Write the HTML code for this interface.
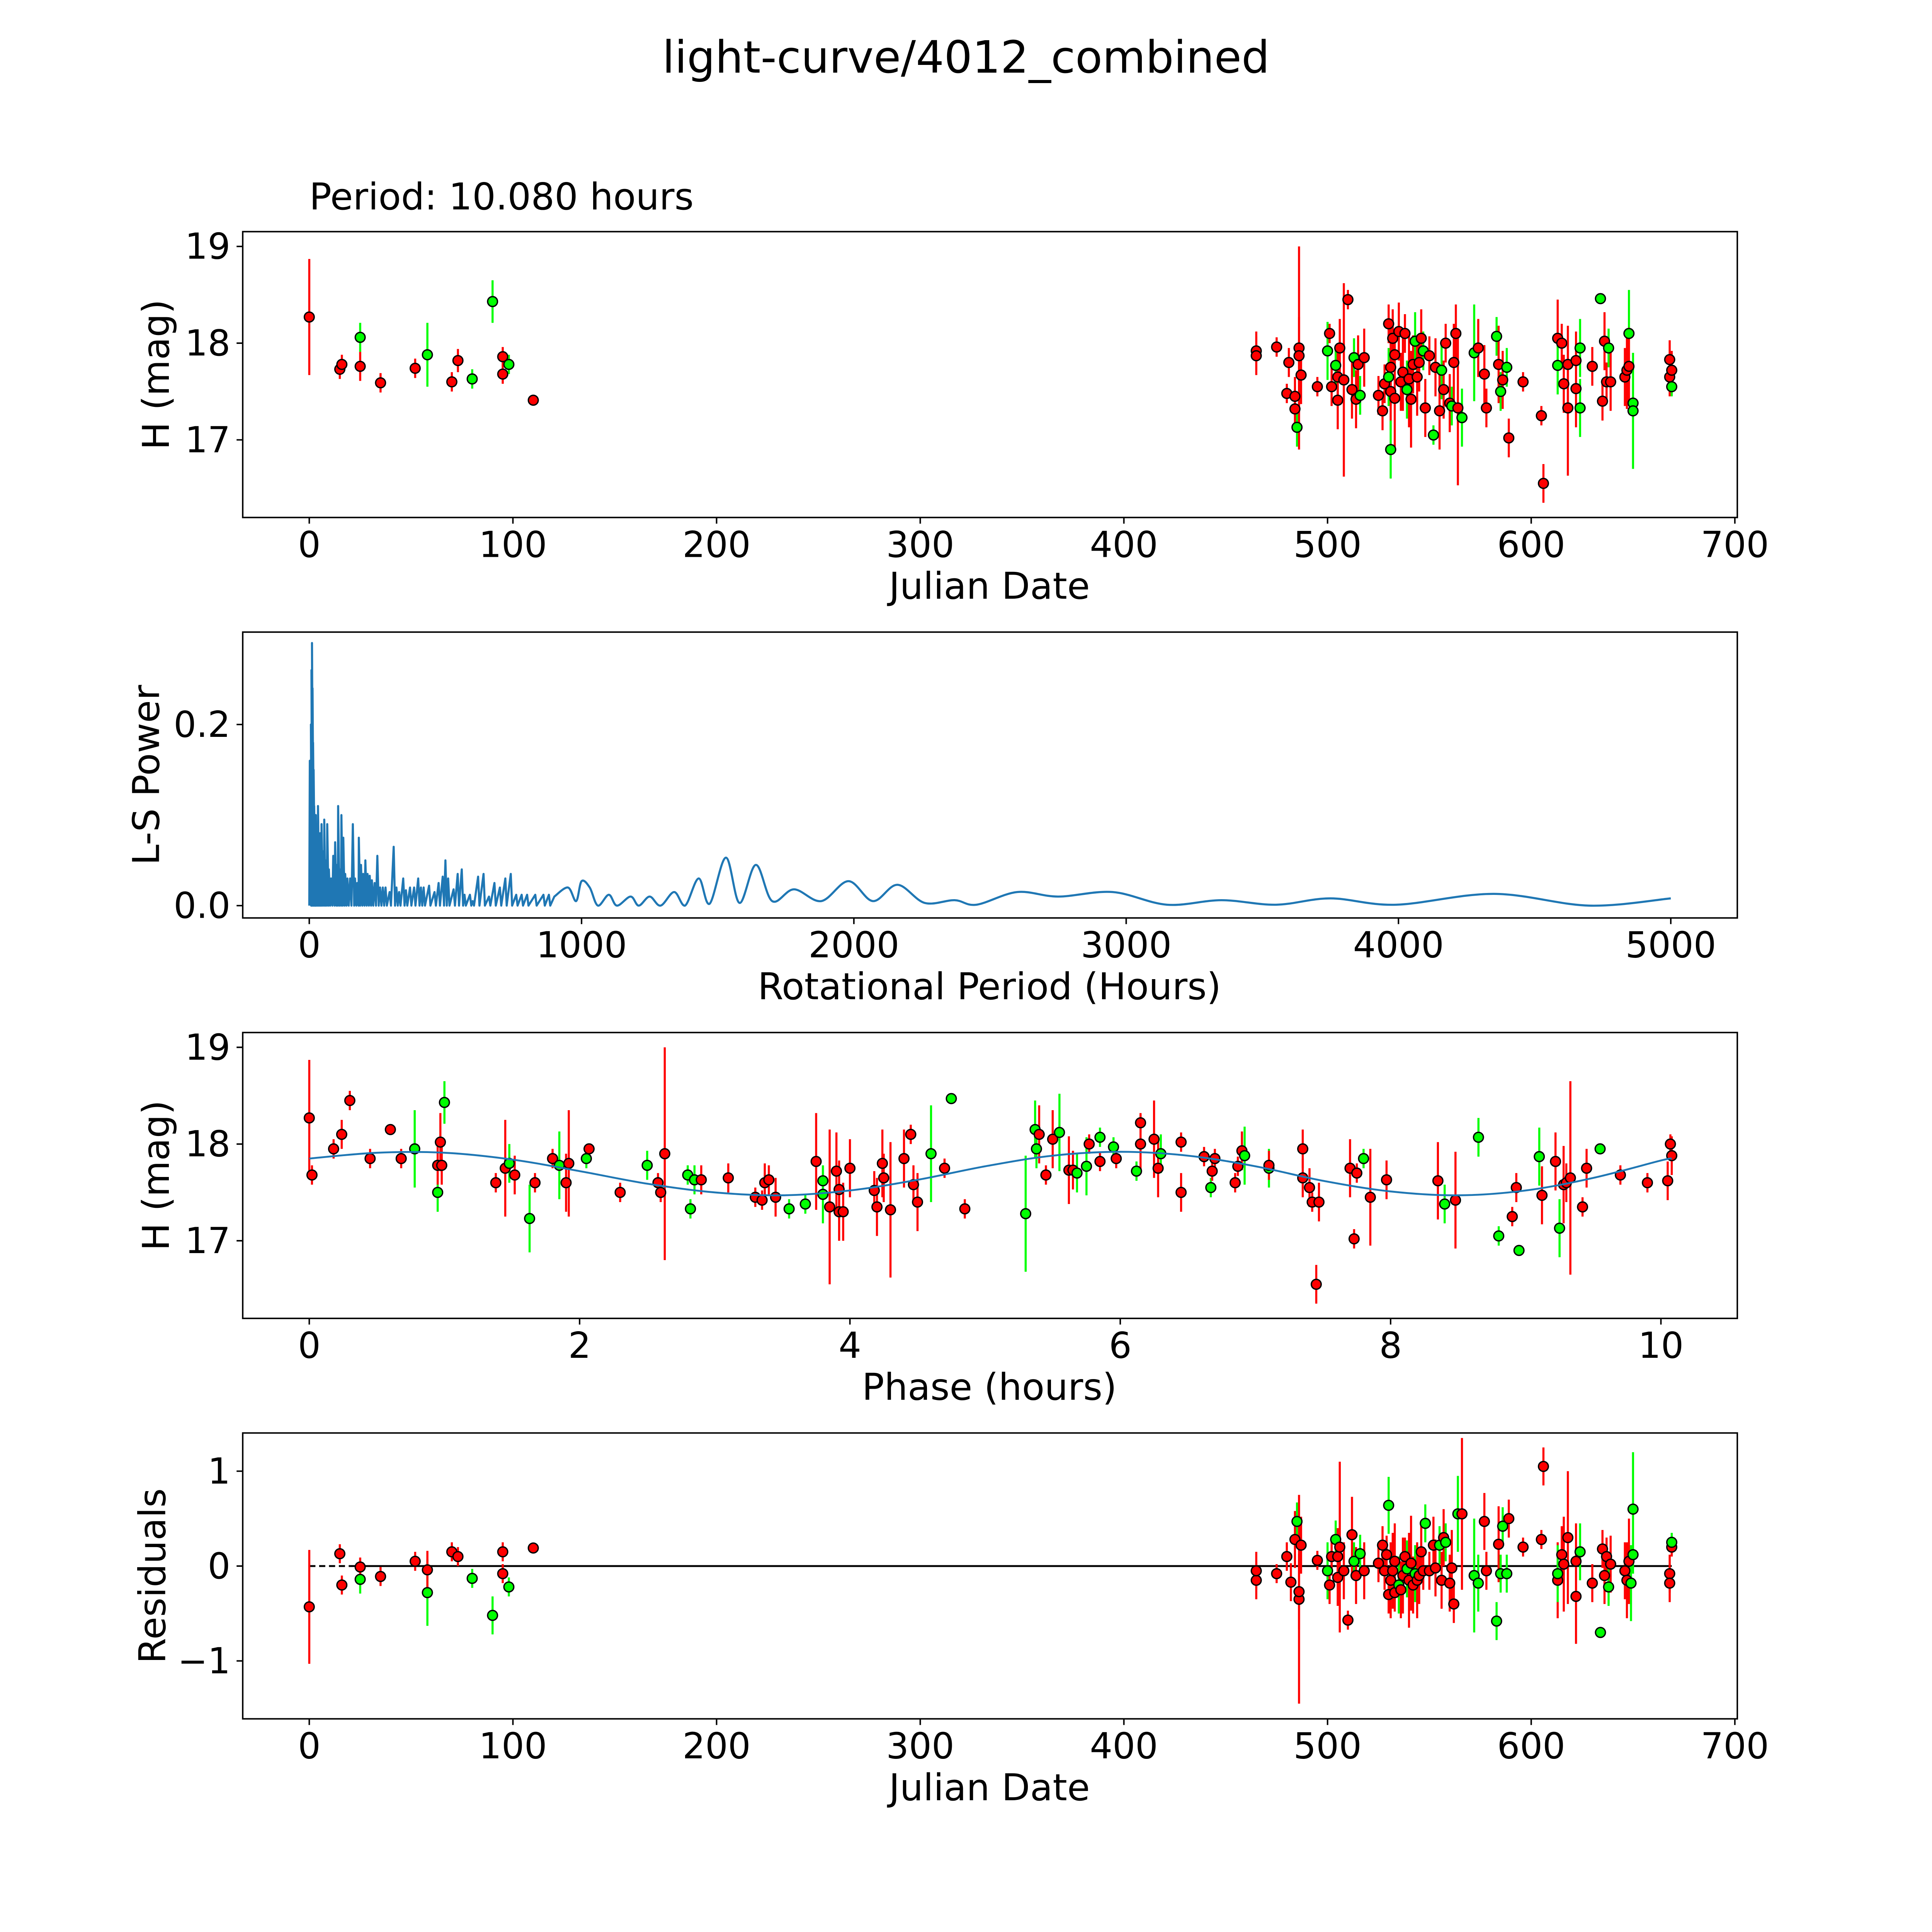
<!DOCTYPE html>
<html><head><meta charset="utf-8"><style>
html,body{margin:0;padding:0;background:#fff;overflow:hidden;width:100vw;height:100vh}
svg{display:block;width:100vw;height:100vh}
text{font-family:"DejaVu Sans","Liberation Sans",sans-serif;fill:#000}
</style></head><body>
<svg id="fig" xmlns="http://www.w3.org/2000/svg" viewBox="0 0 1568 1568" preserveAspectRatio="xMidYMid meet">
<rect x="0" y="0" width="1568" height="1568" fill="#fff"/>
<text x="784" y="59" font-size="36" text-anchor="middle">light-curve/4012_combined</text>
<text x="251" y="170" font-size="30">Period: 10.080 hours</text>
</svg>
<script>
// ---------- DATA ----------
const lcData = [
[0,18.27,0.6,'r'],[15,17.73,0.1,'r'],[16,17.78,0.1,'r'],[25,18.06,0.15,'g'],[25,17.76,0.15,'r'],[35,17.59,0.1,'r'],[52,17.74,0.1,'r'],[58,17.88,0.33,'g'],[70,17.60,0.1,'r'],[73,17.82,0.12,'r'],[80,17.63,0.1,'g'],[90,18.43,0.22,'g'],[95,17.86,0.1,'r'],[95,17.68,0.1,'r'],[98,17.78,0.1,'g'],[110,17.41,0.05,'r'],
[465,17.92,0.2,'r'],[465,17.87,0.2,'r'],[475,17.96,0.1,'r'],[480,17.48,0.1,'r'],[481,17.8,0.15,'r'],[484,17.32,0.2,'r'],[484,17.45,0.2,'r'],[485,17.13,0.2,'g'],[486,17.95,1.05,'r'],[486,17.87,0.4,'r'],[487,17.67,0.3,'r'],[495,17.55,0.1,'r'],[500,17.92,0.3,'g'],[501,18.1,0.1,'r'],[502,17.55,0.2,'r'],[504,17.77,0.2,'g'],[505,17.65,0.3,'r'],[505,17.41,0.3,'r'],[506,17.95,0.3,'r'],[508,17.62,1.0,'r'],[510,18.45,0.1,'r'],[512,17.52,0.3,'r'],[513,17.85,0.2,'g'],[514,17.42,0.3,'r'],[515,17.78,0.3,'r'],[516,17.46,0.2,'g'],[518,17.85,0.3,'r'],[525,17.46,0.2,'r'],[527,17.3,0.2,'r'],[528,17.58,0.2,'r'],[530,18.2,0.2,'r'],[530,17.65,0.3,'g'],[531,17.75,0.4,'r'],[531,17.5,0.4,'r'],[531,16.9,0.3,'g'],[532,18.05,0.3,'r'],[533,17.88,0.2,'r'],[533,17.43,0.5,'r'],[535,18.12,0.3,'r'],[536,17.6,0.3,'r'],[537,17.7,0.4,'r'],[538,18.1,0.2,'r'],[539,17.52,0.3,'g'],[540,17.63,0.5,'r'],[541,17.42,0.5,'r'],[542,17.78,0.3,'r'],[543,18.02,0.3,'g'],[544,17.65,0.4,'r'],[545,17.8,0.3,'r'],[546,18.05,0.3,'r'],[547,17.92,0.2,'g'],[548,17.33,0.3,'r'],[550,17.87,0.2,'r'],[552,17.05,0.1,'g'],[553,17.75,0.3,'r'],[555,17.3,0.4,'r'],[556,17.72,0.3,'g'],[557,17.52,0.3,'r'],[558,18.0,0.2,'r'],[560,17.38,0.3,'r'],[561,17.35,0.2,'g'],[562,17.8,0.4,'r'],[563,18.1,0.3,'r'],[564,17.33,0.8,'r'],[566,17.23,0.3,'g'],[572,17.9,0.5,'g'],[574,17.95,0.3,'r'],[577,17.68,0.3,'r'],[578,17.33,0.2,'r'],[583,18.07,0.2,'g'],[584,17.78,0.4,'r'],[585,17.5,0.2,'g'],[586,17.62,0.3,'r'],[588,17.75,0.2,'g'],[589,17.02,0.2,'r'],[596,17.6,0.1,'r'],[605,17.25,0.1,'r'],[606,16.55,0.2,'r'],[613,18.05,0.4,'r'],[613,17.77,0.3,'g'],[615,18.0,0.2,'r'],[616,17.58,0.3,'r'],[618,17.78,0.4,'r'],[618,17.33,0.7,'r'],[622,17.82,0.3,'r'],[622,17.53,0.4,'r'],[624,17.95,0.3,'g'],[624,17.33,0.3,'g'],[630,17.76,0.2,'r'],[634,18.46,0.05,'g'],[635,17.4,0.2,'r'],[636,18.02,0.3,'r'],[637,17.6,0.2,'r'],[638,17.95,0.2,'g'],[639,17.6,0.3,'r'],[646,17.65,0.3,'r'],[647,17.72,0.4,'r'],[648,18.1,0.45,'g'],[648,17.76,0.4,'r'],[650,17.38,0.2,'g'],[650,17.3,0.6,'g'],[668,17.83,0.2,'r'],[668,17.65,0.2,'r'],[669,17.72,0.2,'r'],[669,17.55,0.1,'g']
];
const spikePeriods = [2,4,6,8,10,12,14,16,18,20,24,28,32,36,40,45,50,55,60,66,72,80,88,95,100,106,112,118,125,132,140,150,160,168,176,182,190,198,206,214,222,230,240,250,260,270,280,295,310,320,330,345,355,370,385,400,410,420,440,460,475,490,500,510,530,545,560,570,590,600,620,640,660,680,700,720,740,760,780,800,830,860,880];
const spikePowers = [0.16,0.09,0.2,0.26,0.29,0.24,0.18,0.15,0.11,0.1,0.1,0.09,0.11,0.06,0.08,0.09,0.06,0.095,0.05,0.09,0.04,0.03,0.055,0.07,0.045,0.11,0.04,0.1,0.075,0.035,0.03,0.03,0.09,0.03,0.025,0.075,0.045,0.035,0.05,0.035,0.033,0.028,0.025,0.055,0.02,0.02,0.02,0.015,0.065,0.02,0.015,0.03,0.017,0.02,0.02,0.03,0.02,0.02,0.022,0.015,0.025,0.032,0.05,0.03,0.018,0.035,0.04,0.012,0.012,0.005,0.032,0.035,0.01,0.025,0.02,0.03,0.035,0.012,0.012,0.012,0.012,0.012,0.012];
const smoothPeriods = [900,950,980,1000,1030,1060,1100,1130,1180,1210,1250,1290,1340,1380,1430,1470,1530,1580,1640,1700,1780,1880,1980,2070,2160,2260,2370,2450,2600,2750,2950,3150,3350,3550,3750,3990,4350,4700,5000];
const smoothPowers = [0.01,0.02,0.005,0.027,0.02,0.0,0.012,0.0,0.01,0.0,0.01,0.0,0.015,0.0,0.03,0.002,0.053,0.003,0.045,0.005,0.018,0.005,0.027,0.005,0.023,0.003,0.006,0.001,0.015,0.01,0.015,0.001,0.006,0.001,0.008,0.001,0.013,0.0,0.008];
const phData = [
[0,18.27,.6,'r'],[0.02,17.68,.1,'r'],[0.18,17.95,.1,'r'],[0.24,18.1,.15,'r'],[0.3,18.45,.1,'r'],[0.45,17.85,.1,'r'],[0.6,18.15,.05,'r'],[0.68,17.85,.1,'r'],[0.78,17.95,.4,'g'],[0.95,17.5,.2,'g'],[0.95,17.78,.2,'r'],[0.97,18.02,.3,'r'],[0.98,17.78,.2,'r'],[1.0,18.43,.22,'g'],[1.38,17.6,.1,'r'],[1.45,17.75,.5,'r'],[1.48,17.8,.2,'g'],[1.52,17.68,.2,'r'],[1.63,17.23,.35,'g'],[1.67,17.6,.1,'r'],[1.8,17.85,.1,'r'],[1.85,17.78,.35,'g'],[1.9,17.6,.3,'r'],[1.92,17.8,.55,'r'],[2.05,17.85,.1,'g'],[2.07,17.95,.05,'r'],[2.3,17.5,.1,'r'],[2.5,17.78,.15,'g'],[2.58,17.6,.1,'r'],[2.6,17.5,.1,'r'],[2.63,17.9,1.1,'r'],[2.8,17.68,.1,'g'],[2.82,17.33,.1,'g'],[2.85,17.63,.15,'g'],[2.9,17.63,.15,'r'],[3.1,17.65,.15,'r'],[3.3,17.45,.1,'r'],[3.35,17.42,.1,'r'],[3.37,17.6,.2,'r'],[3.4,17.63,.15,'r'],[3.45,17.45,.2,'r'],[3.55,17.33,.1,'g'],[3.67,17.38,.1,'g'],[3.75,17.82,.5,'r'],[3.8,17.62,.15,'g'],[3.8,17.48,.3,'g'],[3.85,17.35,.8,'r'],[3.9,17.72,.4,'r'],[3.92,17.3,.3,'r'],[3.95,17.3,.3,'r'],[3.92,17.53,.3,'r'],[4.0,17.75,.3,'r'],[4.18,17.52,.2,'r'],[4.2,17.35,.3,'r'],[4.24,17.8,.35,'r'],[4.25,17.65,.25,'r'],[4.3,17.32,.7,'r'],[4.4,17.85,.3,'r'],[4.45,18.1,.1,'r'],[4.47,17.58,.2,'r'],[4.5,17.4,.3,'r'],[4.6,17.9,.5,'g'],[4.7,17.75,.1,'r'],[4.75,18.47,.05,'g'],[4.85,17.33,.1,'r'],[5.3,17.28,.6,'g'],[5.37,18.15,.3,'g'],[5.38,17.95,.2,'g'],[5.4,18.1,.3,'r'],[5.45,17.68,.1,'r'],[5.5,18.05,.3,'r'],[5.55,18.12,.4,'g'],[5.62,17.73,.35,'r'],[5.65,17.73,.2,'r'],[5.68,17.7,.2,'g'],[5.75,17.77,.3,'g'],[5.77,18.0,.1,'r'],[5.85,18.07,.1,'g'],[5.85,17.82,.1,'r'],[5.95,17.97,.1,'g'],[5.97,17.85,.1,'r'],[6.12,17.72,.1,'g'],[6.15,18.22,.1,'r'],[6.15,18.0,.3,'r'],[6.25,18.05,.4,'r'],[6.28,17.75,.3,'r'],[6.3,17.9,.2,'g'],[6.45,17.5,.2,'r'],[6.45,18.02,.1,'r'],[6.62,17.87,.1,'r'],[6.67,17.55,.1,'g'],[6.7,17.85,.1,'r'],[6.68,17.72,.1,'r'],[6.85,17.6,.1,'r'],[6.87,17.77,.1,'r'],[6.9,17.93,.2,'r'],[6.92,17.88,.3,'g'],[7.1,17.75,.2,'g'],[7.1,17.78,.15,'r'],[7.35,17.95,.2,'r'],[7.35,17.65,.2,'r'],[7.4,17.55,.2,'r'],[7.42,17.4,.1,'r'],[7.45,16.55,.2,'r'],[7.47,17.4,.2,'r'],[7.7,17.75,.3,'r'],[7.73,17.02,.1,'r'],[7.75,17.7,.1,'r'],[7.8,17.85,.1,'g'],[7.85,17.45,.5,'r'],[7.97,17.63,.2,'r'],[8.35,17.62,.4,'r'],[8.4,17.38,.2,'g'],[8.48,17.42,.5,'r'],[8.65,18.07,.2,'g'],[8.8,17.05,.1,'g'],[8.9,17.25,.1,'r'],[8.93,17.55,.15,'r'],[8.95,16.9,.05,'g'],[9.1,17.87,.3,'g'],[9.12,17.47,.3,'r'],[9.22,17.82,.3,'r'],[9.25,17.13,.3,'g'],[9.28,17.58,.4,'r'],[9.3,17.6,.2,'r'],[9.33,17.65,1.0,'r'],[9.42,17.35,.1,'r'],[9.45,17.75,.2,'r'],[9.55,17.95,.05,'g'],[9.7,17.68,.1,'r'],[9.9,17.6,.1,'r'],[10.05,17.62,.2,'r'],[10.07,18.0,.1,'r'],[10.08,17.88,.2,'r']
];
const modelPhase = [0,0.5,1,1.5,2,2.5,3,3.5,4,4.5,5,5.5,6,6.5,7,7.5,8,8.5,9,9.5,10,10.08];
const modelMag = [17.85,17.91,17.91,17.84,17.72,17.59,17.5,17.47,17.52,17.63,17.77,17.88,17.92,17.88,17.77,17.62,17.51,17.47,17.52,17.65,17.83,17.85];
const resData = [
[0,-0.43,.6,'r'],[15,0.13,.1,'r'],[16,-0.2,.1,'r'],[25,-0.14,.15,'g'],[25,-0.01,.1,'r'],[35,-0.11,.1,'r'],[52,0.05,.1,'r'],[58,-0.28,.35,'g'],[58,-0.04,.2,'r'],[70,0.15,.1,'r'],[73,0.1,.1,'r'],[80,-0.13,.1,'g'],[90,-0.52,.2,'g'],[95,-0.08,.1,'r'],[95,0.15,.1,'r'],[98,-0.22,.1,'g'],[110,0.19,.05,'r'],
[465,-0.15,.2,'r'],[465,-0.05,.2,'r'],[475,-0.08,.1,'r'],[480,0.1,.15,'r'],[482,-0.17,.2,'r'],[484,0.28,.3,'r'],[485,0.47,.2,'g'],[486,-0.35,1.1,'r'],[486,-0.27,.4,'r'],[487,0.22,.3,'r'],[495,0.06,.1,'r'],[500,-0.05,.3,'g'],[501,-0.2,.2,'r'],[502,0.1,.2,'r'],[504,0.28,.2,'g'],[505,0.1,.3,'r'],[505,-0.12,.3,'r'],[506,0.2,.9,'r'],[508,-0.05,.3,'r'],[510,-0.57,.1,'r'],[512,0.33,.4,'r'],[513,0.05,.2,'g'],[514,-0.1,.3,'r'],[516,0.13,.2,'g'],[518,-0.05,.3,'r'],[525,0.03,.2,'r'],[527,0.22,.2,'r'],[528,-0.05,.2,'r'],[529,0.12,.2,'r'],[530,-0.3,.2,'r'],[530,0.64,.3,'g'],[531,-0.15,.4,'r'],[532,-0.05,.4,'r'],[533,-0.28,.2,'r'],[533,0.05,.4,'r'],[535,-0.2,.3,'g'],[536,-0.25,.3,'r'],[537,-0.1,.4,'r'],[538,0.1,.2,'r'],[539,-0.03,.3,'g'],[540,-0.15,.5,'r'],[541,0.03,.5,'r'],[542,-0.2,.3,'r'],[543,-0.08,.3,'g'],[544,-0.15,.4,'r'],[545,-0.1,.3,'r'],[546,0.15,.3,'r'],[547,-0.05,.2,'r'],[548,0.45,.2,'g'],[550,-0.05,.2,'r'],[552,0.22,.3,'r'],[553,-0.02,.3,'r'],[555,0.22,.2,'g'],[556,-0.15,.3,'r'],[557,0.3,.3,'r'],[558,0.25,.2,'g'],[560,-0.18,.3,'r'],[561,-0.02,.4,'r'],[562,-0.4,.2,'r'],[564,0.55,.4,'g'],[566,0.55,.8,'r'],[572,-0.1,.6,'g'],[574,-0.18,.3,'g'],[577,0.47,.3,'r'],[578,-0.05,.2,'r'],[583,-0.58,.2,'g'],[584,0.23,.4,'r'],[585,-0.08,.2,'g'],[586,0.42,.2,'g'],[588,-0.08,.2,'g'],[589,0.5,.2,'r'],[596,0.2,.1,'r'],[605,0.28,.1,'r'],[606,1.05,.2,'r'],[613,-0.15,.4,'r'],[613,-0.08,.3,'g'],[615,0.12,.3,'r'],[616,0.02,.5,'r'],[618,0.3,.7,'r'],[622,-0.32,.5,'r'],[622,0.05,.4,'r'],[624,0.15,.3,'g'],[630,-0.18,.2,'r'],[634,-0.7,.05,'g'],[635,0.18,.2,'r'],[636,-0.1,.3,'r'],[637,0.1,.2,'r'],[638,-0.22,.2,'g'],[639,0.02,.3,'r'],[646,-0.05,.3,'r'],[647,-0.15,.4,'r'],[648,0.05,.45,'r'],[649,-0.18,.4,'g'],[650,0.6,.6,'g'],[650,0.12,.2,'g'],[668,-0.08,.2,'r'],[668,-0.18,.2,'r'],[669,0.2,.1,'r'],[669,0.25,.1,'g']
];
const dateTicks = [0,100,200,300,400,500,600,700];
const magTicks = [17,18,19];
const periodTicks = [0,1000,2000,3000,4000,5000];
const powerTicks = [0.0,0.2];
const powerTickLabels = ['0.0','0.2'];
const phaseTicks = [0,2,4,6,8,10];
const resTicks = [-1,0,1];
const resTickLabels = ['\u22121','0','1'];

// ---------- DRAWING ----------
const NS='http://www.w3.org/2000/svg';
const svg=document.getElementById('fig');
function mk(tag,attrs,parent){const e=document.createElementNS(NS,tag);for(const k in attrs)e.setAttribute(k,attrs[k]);(parent||svg).appendChild(e);return e;}
function lin(d0,d1,p0,p1){return v=>p0+(v-d0)*(p1-p0)/(d1-d0);}
const COL={r:'#ff0000',g:'#00ff00'};
const TICKFS=29, LABELFS=30;

function axesFrame(name){
  const g=mk('g',{});
  
  
  return g;
}
function frame(g,L,T,R,B){
  const r=mk('rect',{x:L,y:T,width:R-L,height:B-T,fill:'none',stroke:'#000','stroke-width':1.2},g);
  
  
}
function xTicks(g,sx,ticks,labels,B,label,labelName){
  ticks.forEach((t,i)=>{
    const x=sx(t);
    mk('line',{x1:x,y1:B,x2:x,y2:B+5,stroke:'#000','stroke-width':1.2},g);
    const tx=mk('text',{x:x,y:B+32,'font-size':TICKFS,'text-anchor':'middle'},g);
    tx.textContent=labels?labels[i]:String(t);
    
    
  });
  const lt=mk('text',{x:803,y:B+66,'font-size':LABELFS,'text-anchor':'middle'},g);
  lt.textContent=label;
  
  
}
function yTicks(g,sy,ticks,labels,L,T,B,label,labelName,labelX){
  ticks.forEach((t,i)=>{
    const y=sy(t);
    mk('line',{x1:L-5,y1:y,x2:L,y2:y,stroke:'#000','stroke-width':1.2},g);
    const tx=mk('text',{x:L-10,y:y+10,'font-size':TICKFS,'text-anchor':'end'},g);
    tx.textContent=labels?labels[i]:String(t);
    
    
  });
  const cy=(T+B)/2;
  const lt=mk('text',{x:0,y:0,'font-size':LABELFS,'text-anchor':'middle',transform:`translate(${labelX},${cy}) rotate(-90)`},g);
  lt.textContent=label;
  
  
}
function errPoints(g,data,sx,sy,name){
  const eg=mk('g',{},g);
  data.forEach(d=>{
    const x=sx(d[0]);
    const l=mk('line',{x1:x,y1:sy(d[1]-d[2]),x2:x,y2:sy(d[1]+d[2]),stroke:COL[d[3]],'stroke-width':1.7},eg);
    
    
  });
  data.forEach(d=>{
    const c=mk('circle',{cx:sx(d[0]),cy:sy(d[1]),r:4,fill:COL[d[3]],stroke:'#000','stroke-width':1.1},eg);
    
    
  });
}

// Panel 1
(function(){
  const L=197,T=188,R=1410,B=420;
  const sx=lin(0,700,251,1408), sy=lin(17,19,357,200);
  const g=axesFrame('light-curve-panel');
  errPoints(g,lcData,sx,sy,'light-curve');
  frame(g,L,T,R,B);
  xTicks(g,sx,dateTicks,null,B,'Julian Date','x-axis-title');
  yTicks(g,sy,magTicks,null,L,T,B,'H (mag)','y-axis-title',137);
})();
// Panel 2
(function(){
  const L=197,T=513,R=1410,B=745;
  const sx=lin(0,5000,251,1356), sy=lin(0,0.2,735,588);
  const g=axesFrame('periodogram-panel');
  let d=`M${sx(0)},${sy(0)}`;
  spikePeriods.forEach((p,i)=>{
    d+=` L${sx(p)},${sy(spikePowers[i])} L${sx(p)+1.1},${sy(0)}`;
  });
  const pts=smoothPeriods.map((p,i)=>[sx(p),sy(smoothPowers[i])]);
  d+=` L${pts[0][0]},${pts[0][1]}`;
  for(let i=0;i<pts.length-1;i++){
    const p0=pts[Math.max(0,i-1)],p1=pts[i],p2=pts[i+1],p3=pts[Math.min(pts.length-1,i+2)];
    const c1=[p1[0]+(p2[0]-p0[0])/6,p1[1]+(p2[1]-p0[1])/6];
    const c2=[p2[0]-(p3[0]-p1[0])/6,p2[1]-(p3[1]-p1[1])/6];
    d+=` C${c1[0]},${Math.min(c1[1],sy(-0.001))} ${c2[0]},${Math.min(c2[1],sy(-0.001))} ${p2[0]},${p2[1]}`;
  }
  const path=mk('path',{d:d,fill:'none',stroke:'#1f77b4','stroke-width':1.7,'stroke-linejoin':'round'},g);
  
  
  frame(g,L,T,R,B);
  xTicks(g,sx,periodTicks,null,B,'Rotational Period (Hours)','x-axis-title');
  yTicks(g,sy,powerTicks,powerTickLabels,L,T,B,'L-S Power','y-axis-title',129);
})();
// Panel 3
(function(){
  const L=197,T=838,R=1410,B=1070;
  const sx=lin(0,10,251,1348), sy=lin(17,19,1007,850);
  const g=axesFrame('phased-curve-panel');
  errPoints(g,phData,sx,sy,'phased');
  const pts=modelPhase.map((p,i)=>[sx(p),sy(modelMag[i])]);
  let d=`M${pts[0][0]},${pts[0][1]}`;
  for(let i=0;i<pts.length-1;i++){
    const p0=pts[Math.max(0,i-1)],p1=pts[i],p2=pts[i+1],p3=pts[Math.min(pts.length-1,i+2)];
    d+=` C${p1[0]+(p2[0]-p0[0])/6},${p1[1]+(p2[1]-p0[1])/6} ${p2[0]-(p3[0]-p1[0])/6},${p2[1]-(p3[1]-p1[1])/6} ${p2[0]},${p2[1]}`;
  }
  const path=mk('path',{d:d,fill:'none',stroke:'#1f77b4','stroke-width':1.5},g);
  
  
  frame(g,L,T,R,B);
  xTicks(g,sx,phaseTicks,null,B,'Phase (hours)','x-axis-title');
  yTicks(g,sy,magTicks,null,L,T,B,'H (mag)','y-axis-title',137);
})();
// Panel 4
(function(){
  const L=197,T=1163,R=1410,B=1395;
  const sx=lin(0,700,251,1408), sy=lin(-1,1,1348,1194);
  const g=axesFrame('residuals-panel');
  const z1=mk('line',{x1:sx(0),y1:sy(0),x2:sx(20),y2:sy(0),stroke:'#000','stroke-width':1.5,'stroke-dasharray':'5,3'},g);
  
  
  const z2=mk('line',{x1:sx(20),y1:sy(0),x2:sx(669),y2:sy(0),stroke:'#000','stroke-width':1.5},g);
  
  
  errPoints(g,resData,sx,sy,'residual');
  frame(g,L,T,R,B);
  xTicks(g,sx,dateTicks,null,B,'Julian Date','x-axis-title');
  yTicks(g,sy,resTicks,resTickLabels,L,T,B,'Residuals','y-axis-title',134);
})();
</script>
</body></html>
